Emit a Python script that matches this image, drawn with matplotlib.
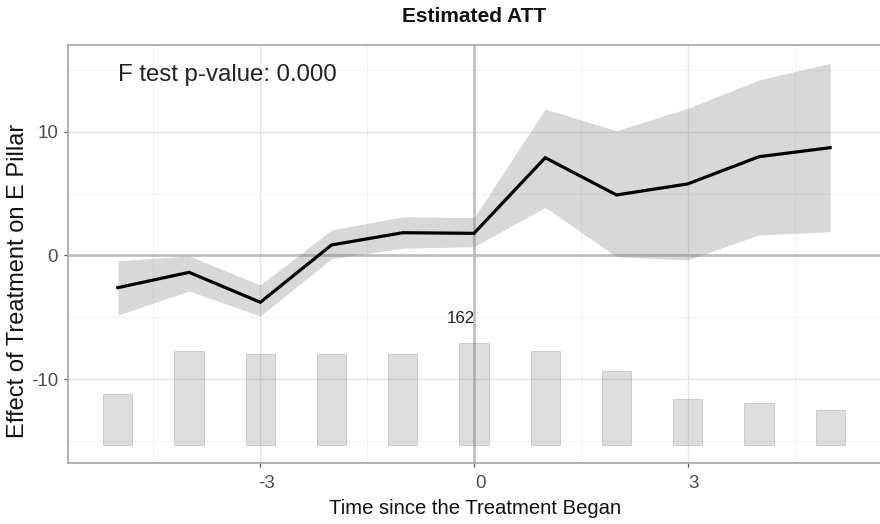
import numpy as np
import matplotlib
matplotlib.use('Agg')
from matplotlib import pyplot as plt
from matplotlib import transforms

plt.rcParams['font.family'] = ['Liberation Sans', 'DejaVu Sans']

# data
periods = [-5, -4, -3, -2, -1, 0, 1, 2, 3, 4, 5]
att = [-2.60, -1.36, -3.78, 0.85, 1.84, 1.79, 7.90, 4.89, 5.78, 7.98, 8.71]
ci_upper = [-0.42, -0.04, -2.38, 2.06, 3.13, 3.05, 11.83, 10.08, 11.89, 14.18, 15.52]
ci_lower = [-4.81, -2.87, -4.89, -0.25, 0.58, 0.71, 3.89, -0.10, -0.36, 1.66, 1.92]
n_obs = [81, 150, 145, 145, 145, 162, 150, 118, 73, 66, 56]
pvalue_text = 'F test p-value: 0.000'

# where the count bars sit
bar_base = -15.3
bar_max_h = 8.22

x = np.array(periods)
cnt = np.array(n_obs, dtype=float)
bar_h = cnt / cnt.max() * bar_max_h

fig = plt.figure(figsize=(8.8, 5.24), dpi=100)
ax = fig.add_axes([68/880, 1 - 463.3/524, 812/880, 418.6/524])

# grid like theme_bw
ax.set_xticks([-3, 0, 3])
ax.set_yticks([-10, 0, 10])
ax.set_xticks([-4.5, -1.5, 1.5, 4.5], minor=True)
ax.set_yticks([-15, -5, 5, 15], minor=True)
ax.grid(True, which='major', color='#E4E4E4', lw=1.0, zorder=0)
ax.grid(True, which='minor', color='#F1F1F1', lw=0.7, zorder=0)
ax.set_axisbelow(True)

# reference lines
ax.axhline(0, color='#BEBEBE', lw=1.9, zorder=1)
ax.axvline(0, color='#BEBEBE', lw=1.9, zorder=1)

# number of observations
ax.bar(x, bar_h, bottom=bar_base, width=0.41, color='#7F7F7F', alpha=0.26,
       edgecolor='#555555', linewidth=0.6, zorder=2)
imax = int(np.argmax(cnt))
ax.annotate(str(n_obs[imax]), xy=(x[imax], bar_base + bar_h[imax]), xytext=(0.7, 17.5),
            textcoords='offset points', ha='right', va='center', fontsize=12.2, color='#222222')

# estimates
ax.fill_between(x, ci_lower, ci_upper, color='#7F7F7F', alpha=0.3, lw=0, zorder=3)
ax.plot(x, att, color='black', lw=2.3, zorder=4, solid_joinstyle='miter')

ax.text(-5, 14.6, pvalue_text, ha='left', va='center', fontsize=17.3, color='#222222')

ax.set_xlim(-5.7, 5.7)
ax.set_ylim(-16.79, 17.03)

for s in ax.spines.values():
    s.set_color('#ABABAB')
    s.set_linewidth(1.3)
ax.spines['right'].set_visible(False)

ax.tick_params(which='major', length=3, width=0.9, color='#555555', labelsize=13.5,
               labelcolor='#4D4D4D')
ax.tick_params(axis='x', pad=5.4)
ax.tick_params(axis='y', pad=4.1)
ax.tick_params(which='minor', length=0)
ax.set_yticklabels(['-10', '0', '10'])
ax.set_xticklabels(['-3', '0', '3'])
off = transforms.ScaledTranslation(6/100, 0, fig.dpi_scale_trans)
for lab in ax.get_xticklabels():
    lab.set_transform(lab.get_transform() + off)

ax.set_xlabel('Time since the Treatment Began', fontsize=14.6, color='#111111')
ax.xaxis.set_label_coords((475 - 68) / 812, (463.3 - 508) / 418.6)
ax.xaxis.label.set_va('center')
ax.set_ylabel('Effect of Treatment on E Pillar', fontsize=17, color='#111111')
ax.yaxis.set_label_coords((18 - 68) / 812, (463.3 - 281) / 418.6)
ax.yaxis.label.set_va('center')

fig.text(474/880, 1 - 16.7/524, 'Estimated ATT', ha='center', va='center',
         fontsize=15, fontweight='bold', color='#111111')

plt.savefig('out.png', dpi=100)
